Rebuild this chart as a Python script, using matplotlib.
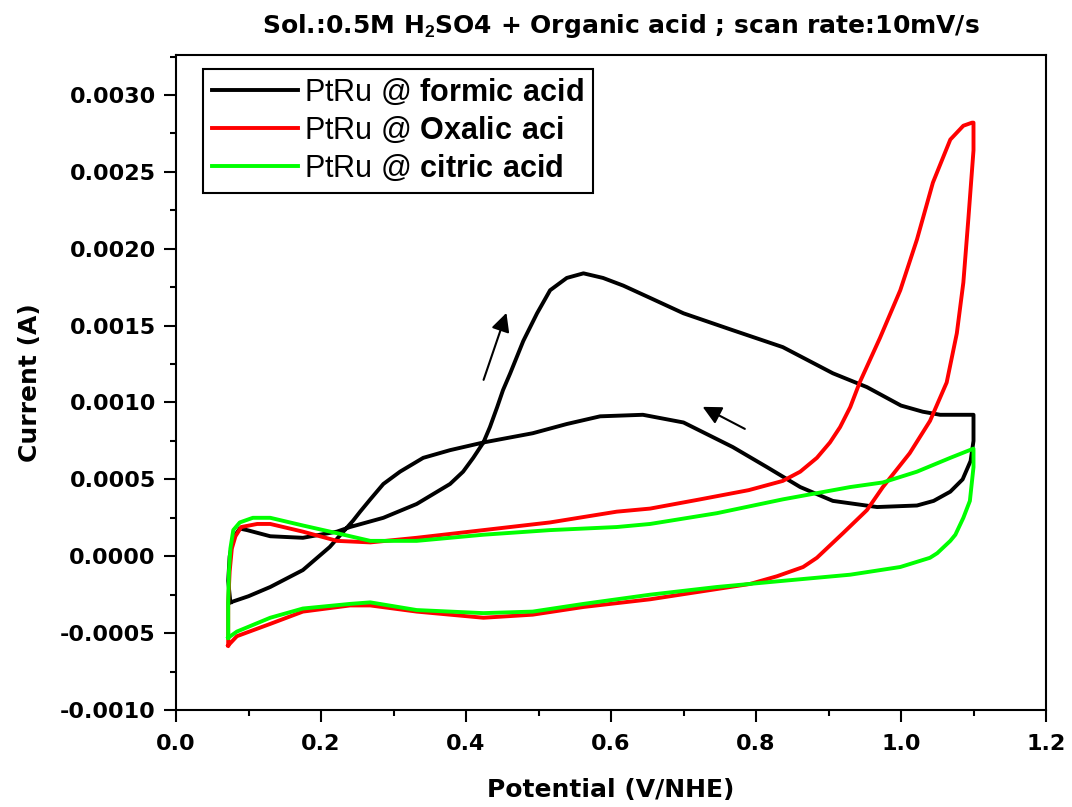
"""Cyclic voltammograms of PtRu in 0.5M H2SO4 with organic acids."""

import matplotlib

matplotlib.use("Agg")
import matplotlib.pyplot as plt
from matplotlib.ticker import AutoMinorLocator, FormatStrFormatter, MultipleLocator

# formic acid: forward scan then reverse scan
formic_v = [0.075, 0.072, 0.074, 0.079, 0.088, 0.098, 0.13, 0.175, 0.222, 0.24,
            0.286, 0.332, 0.378, 0.396, 0.41, 0.424, 0.433, 0.443, 0.451, 0.461,
            0.479, 0.498, 0.516, 0.539, 0.562, 0.589, 0.617, 0.654, 0.70, 0.768,
            0.837, 0.906, 0.953, 1.0, 1.03, 1.054, 1.1,
            1.1, 1.096, 1.085, 1.068, 1.045, 1.022, 0.967, 0.906, 0.861, 0.815,
            0.768, 0.70, 0.644, 0.585, 0.539, 0.492, 0.424, 0.378, 0.341, 0.309,
            0.286, 0.268, 0.254, 0.244, 0.212, 0.175, 0.13, 0.1, 0.075]
formic_i = [-0.0003, -0.00016, 0.0, 0.00012, 0.00018, 0.00017, 0.00013, 0.00012, 0.00016, 0.00019,
            0.00025, 0.00034, 0.00047, 0.00055, 0.00064, 0.00074, 0.00084, 0.00097, 0.00108, 0.00119,
            0.0014, 0.00158, 0.00173, 0.00181, 0.00184, 0.00181, 0.00176, 0.00168, 0.00158, 0.00147,
            0.00136, 0.00119, 0.0011, 0.00098, 0.00094, 0.00092, 0.00092,
            0.00075, 0.00062, 0.0005, 0.00042, 0.00036, 0.00033, 0.00032, 0.00036, 0.00045, 0.00058,
            0.00071, 0.00087, 0.00092, 0.00091, 0.00086, 0.0008, 0.00074, 0.00069, 0.00064, 0.00055,
            0.00047, 0.00037, 0.00029, 0.00023, 0.00006, -0.00009, -0.0002, -0.00026, -0.0003]

# oxalic acid
oxalic_v = [0.072, 0.072, 0.074, 0.077, 0.082, 0.09, 0.112, 0.13, 0.175, 0.222,
            0.268, 0.332, 0.424, 0.516, 0.608, 0.654, 0.723, 0.79, 0.837, 0.861,
            0.884, 0.902, 0.916, 0.93, 0.943, 0.971, 0.999, 1.022, 1.044, 1.068,
            1.086, 1.098, 1.1,
            1.1, 1.093, 1.086, 1.077, 1.063, 1.04, 1.012, 0.975, 0.953, 0.92,
            0.902, 0.884, 0.865, 0.829, 0.792, 0.723, 0.654, 0.562, 0.492, 0.424,
            0.332, 0.268, 0.24, 0.175, 0.13, 0.084, 0.072]
oxalic_i = [-0.00058, -0.0003, -0.0001, 0.00005, 0.00013, 0.00019, 0.00021, 0.00021, 0.00016, 0.0001,
            0.00009, 0.00012, 0.00017, 0.00022, 0.00029, 0.00031, 0.00037, 0.00043, 0.00049, 0.00055,
            0.00064, 0.00074, 0.00084, 0.00097, 0.00113, 0.00142, 0.00173, 0.00206, 0.00243, 0.00271,
            0.0028, 0.00282, 0.00282,
            0.00264, 0.0022, 0.00178, 0.00145, 0.00113, 0.00088, 0.00067, 0.00045, 0.0003, 0.00015,
            0.00007, -0.00001, -0.00007, -0.00013, -0.00018, -0.00023, -0.00028, -0.00033, -0.00038, -0.0004,
            -0.00036, -0.00032, -0.00032, -0.00036, -0.00044, -0.00052, -0.00058]

# citric acid
citric_v = [0.072, 0.072, 0.073, 0.075, 0.079, 0.088, 0.106, 0.13, 0.175, 0.222,
            0.268, 0.332, 0.424, 0.516, 0.608, 0.654, 0.746, 0.837, 0.93, 0.975,
            1.022, 1.068, 1.1,
            1.1, 1.095, 1.086, 1.075, 1.068, 1.05, 1.04, 0.999, 0.93, 0.837,
            0.746, 0.654, 0.562, 0.492, 0.424, 0.332, 0.268, 0.24, 0.175, 0.13,
            0.084, 0.072]
citric_i = [-0.00053, -0.0003, -0.0001, 0.00005, 0.00017, 0.00022, 0.00025, 0.00025, 0.0002, 0.00015,
            0.0001, 0.0001, 0.00014, 0.00017, 0.00019, 0.00021, 0.00028, 0.00037, 0.00045, 0.00048,
            0.00055, 0.00064, 0.0007,
            0.00058, 0.00036, 0.00025, 0.00014, 0.0001, 0.00002, -0.00001, -0.00007, -0.00012, -0.00016,
            -0.0002, -0.00025, -0.00031, -0.00036, -0.00037, -0.00035, -0.0003, -0.00031, -0.00034, -0.0004,
            -0.00049, -0.00053]

labels = [r"PtRu @ $\mathbf{formic\ acid}$",
          r"PtRu @ $\mathbf{Oxalic\ aci}$",
          r"PtRu @ $\mathbf{citric\ acid}$"]
colors = ["#000000", "#ff0000", "#00ff00"]

plt.rcParams["font.family"] = ["DejaVu Sans"]
plt.rcParams["mathtext.fontset"] = "custom"
plt.rcParams["mathtext.rm"] = "Liberation Sans"
plt.rcParams["mathtext.bf"] = "Liberation Sans:bold"

fig = plt.figure(figsize=(10.72, 8.07), dpi=100)
ax = fig.add_axes([176 / 1072, 1 - 710 / 807, 870 / 1072, 655 / 807])

for v, i, c, lab in zip([formic_v, oxalic_v, citric_v],
                        [formic_i, oxalic_i, citric_i], colors, labels):
    ax.plot(v, i, color=c, lw=2.8, label=lab, solid_joinstyle="round")

# scan direction arrows
ax.annotate("", xy=(0.457, 0.0016), xytext=(0.423, 0.00113),
            arrowprops=dict(arrowstyle="-|>", color="k", lw=1.5, mutation_scale=28))
ax.annotate("", xy=(0.723, 0.00098), xytext=(0.788, 0.00082),
            arrowprops=dict(arrowstyle="-|>", color="k", lw=1.5, mutation_scale=28))

ax.set_xlim(0, 1.2)
ax.set_ylim(-0.001, 0.00326)
ax.xaxis.set_major_locator(MultipleLocator(0.2))
ax.yaxis.set_major_locator(MultipleLocator(0.0005))
ax.xaxis.set_minor_locator(AutoMinorLocator(2))
ax.yaxis.set_minor_locator(AutoMinorLocator(2))
ax.xaxis.set_major_formatter(FormatStrFormatter("%.1f"))
ax.yaxis.set_major_formatter(FormatStrFormatter("%.4f"))
ax.tick_params(which="both", direction="out", top=False, right=False, width=1.5)
ax.tick_params(which="major", length=8.5, pad=6, labelsize=16)
ax.tick_params(axis="x", which="major", pad=9)
ax.tick_params(which="minor", length=4.5)
for lab in ax.get_xticklabels() + ax.get_yticklabels():
    lab.set_fontweight("bold")
for s in ax.spines.values():
    s.set_linewidth(1.5)

ax.set_xlabel("Potential (V/NHE)", fontsize=18, fontweight="bold", labelpad=17)
ax.set_ylabel("Current (A)", fontsize=18, fontweight="bold", labelpad=13)

fig.text(621 / 1072, 1 - 33 / 807,
         r"Sol.:0.5M H$_\mathbf{2}$SO4 + Organic acid ; scan rate:10mV/s",
         ha="center", va="baseline", fontsize=18, fontweight="bold")

leg = ax.legend(loc="upper left", bbox_to_anchor=(0.031, 0.979), borderaxespad=0,
                prop={"family": "Liberation Sans", "size": 22},
                handlelength=2.8, handletextpad=0.2, labelspacing=0.25,
                borderpad=0.3, fancybox=False, framealpha=1, edgecolor="k")
leg.get_frame().set_linewidth(1.5)

plt.savefig("out.png", dpi=100)
plt.close()
